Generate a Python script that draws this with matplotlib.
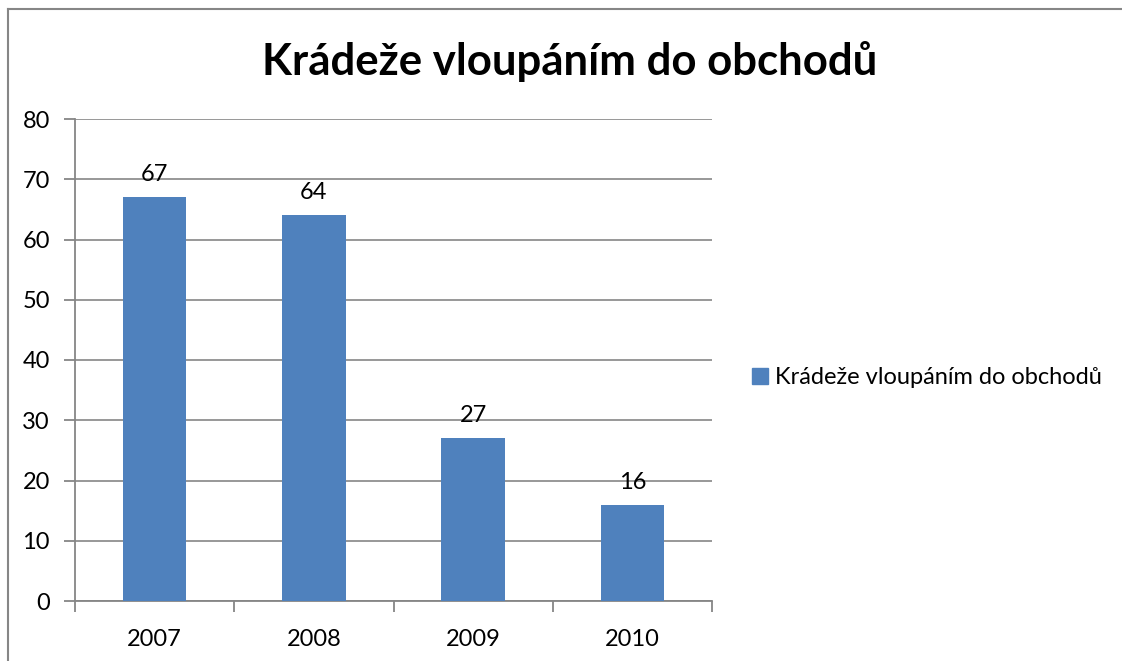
import matplotlib

matplotlib.use("Agg")
import matplotlib.pyplot as plt
from matplotlib.lines import Line2D
from matplotlib.patches import Patch

years = ["2007", "2008", "2009", "2010"]
counts = [67, 64, 27, 16]
series_name = "Krádeže vloupáním do obchodů"
title = "Krádeže vloupáním do obchodů"
y_ticks = [0, 10, 20, 30, 40, 50, 60, 70, 80]

BAR_COLOR = "#4F81BD"
AXIS_COLOR = "#868686"

plt.rcParams["font.family"] = ["Lato", "DejaVu Sans"]

W, H = 1122, 661
fig = plt.figure(figsize=(W / 100, H / 100), dpi=100)
ax = fig.add_axes([75 / W, 1 - 601 / H, (712 - 75) / W, (601 - 119) / H])

x = list(range(len(years)))
bars = ax.bar(x, counts, width=0.40, color=BAR_COLOR, zorder=3, label=series_name)
for xi, v in zip(x, counts):
    ax.text(xi, v + 2.0, str(v), ha="center", va="bottom", fontsize=17, color="black")

ax.set_xlim(-0.5, len(years) - 0.5)
ax.set_ylim(0, 80)
ax.set_yticks(y_ticks)
ax.set_yticklabels([str(t) for t in y_ticks], fontsize=17)
ax.set_xticks([i + 0.5 for i in range(-1, len(years))], minor=False)
ax.set_xticklabels([])
ax.set_xticks(x, minor=True)
ax.set_xticklabels(years, minor=True, fontsize=17)
ax.tick_params(axis="x", which="major", length=8, color=AXIS_COLOR, width=1.3)
ax.tick_params(axis="x", which="minor", length=0, pad=20)
ax.tick_params(axis="y", length=8, color=AXIS_COLOR, width=1.3, pad=10)

ax.yaxis.grid(True, color=AXIS_COLOR, linewidth=1.2, zorder=0)
for side in ["top", "right"]:
    ax.spines[side].set_visible(False)
for side in ["left", "bottom"]:
    ax.spines[side].set_color(AXIS_COLOR)
    ax.spines[side].set_linewidth(1.3)

fig.text(570 / W, 1 - 62 / H, title, ha="center", va="center", fontsize=31.5, fontweight="bold")

fig.legend(handles=[Patch(color=BAR_COLOR, label=series_name)],
           loc="center left", bbox_to_anchor=(731 / W, 1 - 378 / H), frameon=False,
           fontsize=17, handlelength=0.65, handleheight=0.65, handletextpad=0.3)

# outer chart border (cropped: only top and left visible)
fig.add_artist(Line2D([8 / W, 8 / W], [0, 1 - 9 / H], color=AXIS_COLOR, linewidth=1.5))
fig.add_artist(Line2D([8 / W, 1], [1 - 9 / H, 1 - 9 / H], color=AXIS_COLOR, linewidth=1.5))

fig.savefig("out.png", dpi=100)
